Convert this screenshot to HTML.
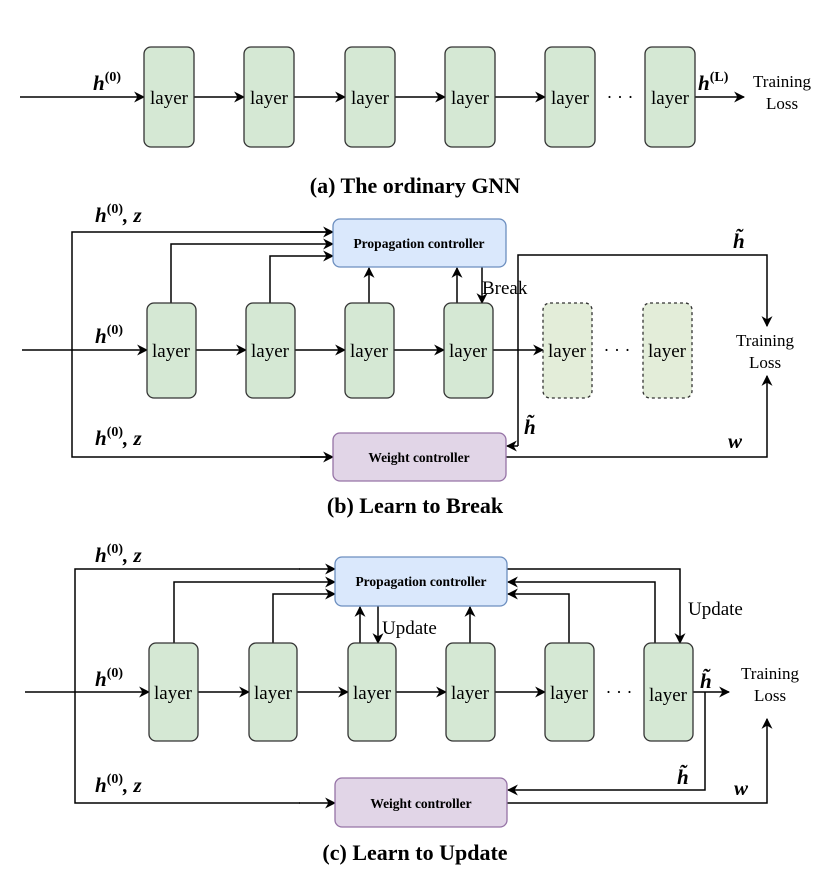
<!DOCTYPE html>
<html><head><meta charset="utf-8"><style>
html,body{margin:0;padding:0;background:#fff;}
svg{display:block;}
text{font-family:"Liberation Serif",serif;fill:#000;}
.ly{font-size:19px;}
.m{font-size:21px;font-weight:bold;font-style:italic;}
.sup{font-size:14px;font-weight:bold;font-style:normal;}
.cap{font-size:22px;font-weight:bold;}
.ctl{font-size:13.5px;font-weight:bold;}
.tl{font-size:17px;}
</style></head><body>
<svg width="830" height="881" viewBox="0 0 830 881" xmlns="http://www.w3.org/2000/svg">
<defs>
<marker id="a" viewBox="0 0 10 10" refX="9" refY="5" markerWidth="11" markerHeight="11" orient="auto" markerUnits="userSpaceOnUse">
<path d="M0,0 L10,5 L0,10 L3,5 Z" fill="#000"/></marker>
</defs>
<g stroke="#000" stroke-width="1.5" fill="none">
<line x1="20" y1="97" x2="144" y2="97" marker-end="url(#a)"/>
<line x1="194" y1="97" x2="244" y2="97" marker-end="url(#a)"/>
<line x1="294" y1="97" x2="345" y2="97" marker-end="url(#a)"/>
<line x1="395" y1="97" x2="445" y2="97" marker-end="url(#a)"/>
<line x1="495" y1="97" x2="545" y2="97" marker-end="url(#a)"/>
<line x1="695" y1="97" x2="744" y2="97" marker-end="url(#a)"/>
</g>
<g fill="#d5e8d4" stroke="#333" stroke-width="1.3">
<rect x="144" y="47" width="50" height="100" rx="7"/>
<rect x="244" y="47" width="50" height="100" rx="7"/>
<rect x="345" y="47" width="50" height="100" rx="7"/>
<rect x="445" y="47" width="50" height="100" rx="7"/>
<rect x="545" y="47" width="50" height="100" rx="7"/>
<rect x="645" y="47" width="50" height="100" rx="7"/>
</g>
<g class="ly" text-anchor="middle">
<text x="169" y="104">layer</text><text x="269" y="104">layer</text><text x="370" y="104">layer</text>
<text x="470" y="104">layer</text><text x="570" y="104">layer</text><text x="670" y="104">layer</text>
</g>
<text x="620" y="103" font-size="18" text-anchor="middle">· · ·</text>
<text class="m" x="93" y="90">h<tspan class="sup" dy="-9">(0)</tspan></text>
<text class="m" x="698" y="90">h<tspan class="sup" dy="-9" font-style="italic">(L)</tspan></text>
<text class="tl" x="782" y="87" text-anchor="middle">Training</text>
<text class="tl" x="782" y="109" text-anchor="middle">Loss</text>
<text class="cap" x="415" y="193" text-anchor="middle">(a) The ordinary GNN</text>

<g stroke="#000" stroke-width="1.5" fill="none">
<polyline points="333,232 72,232 72,457 333,457" />
<line x1="300" y1="232" x2="333" y2="232" marker-end="url(#a)"/>
<line x1="300" y1="457" x2="333" y2="457" marker-end="url(#a)"/>
<polyline points="171,303 171,244 333,244" marker-end="url(#a)"/>
<polyline points="270,303 270,256 333,256" marker-end="url(#a)"/>
<line x1="369" y1="303" x2="369" y2="268" marker-end="url(#a)"/>
<line x1="457" y1="303" x2="457" y2="268" marker-end="url(#a)"/>
<line x1="482" y1="267" x2="482" y2="303" marker-end="url(#a)"/>
<line x1="22" y1="350" x2="147" y2="350" marker-end="url(#a)"/>
<line x1="196" y1="350" x2="246" y2="350" marker-end="url(#a)"/>
<line x1="295" y1="350" x2="345" y2="350" marker-end="url(#a)"/>
<line x1="394" y1="350" x2="444" y2="350" marker-end="url(#a)"/>
<line x1="493" y1="350" x2="543" y2="350" marker-end="url(#a)"/>
<polyline points="518,446 518,255 767,255 767,326" marker-end="url(#a)"/>
<line x1="518" y1="446" x2="507" y2="446" marker-end="url(#a)"/>
<polyline points="506,457 767,457 767,376" marker-end="url(#a)"/>
</g>
<rect x="333" y="219" width="173" height="48" rx="7" fill="#dae8fc" stroke="#6c8ebf" stroke-width="1.3"/>
<rect x="333" y="433" width="173" height="48" rx="7" fill="#e1d5e7" stroke="#9673a6" stroke-width="1.3"/>
<text class="ctl" x="419" y="248" text-anchor="middle">Propagation controller</text>
<text class="ctl" x="419" y="462" text-anchor="middle">Weight controller</text>
<g fill="#d5e8d4" stroke="#333" stroke-width="1.3">
<rect x="147" y="303" width="49" height="95" rx="7"/>
<rect x="246" y="303" width="49" height="95" rx="7"/>
<rect x="345" y="303" width="49" height="95" rx="7"/>
<rect x="444" y="303" width="49" height="95" rx="7"/>
</g>
<g fill="#e3edd9" stroke="#333" stroke-width="1.3" stroke-dasharray="3,3">
<rect x="543" y="303" width="49" height="95" rx="7"/>
<rect x="643" y="303" width="49" height="95" rx="7"/>
</g>
<g class="ly" text-anchor="middle">
<text x="171" y="357">layer</text><text x="270" y="357">layer</text><text x="369" y="357">layer</text>
<text x="468" y="357">layer</text><text x="567" y="357">layer</text><text x="667" y="357">layer</text>
</g>
<text x="617" y="356" font-size="18" text-anchor="middle">· · ·</text>
<text x="482" y="294" font-size="19">Break</text>
<text class="m" x="95" y="222">h<tspan class="sup" dy="-9">(0)</tspan><tspan dy="9">, z</tspan></text>
<text class="m" x="95" y="445">h<tspan class="sup" dy="-9">(0)</tspan><tspan dy="9">, z</tspan></text>
<text class="m" x="95" y="343">h<tspan class="sup" dy="-9">(0)</tspan></text>
<text class="m" x="733" y="248">h̃</text>
<text class="m" x="524" y="434">h̃</text>
<text class="m" x="728" y="448">w</text>
<text class="tl" x="765" y="346" text-anchor="middle">Training</text>
<text class="tl" x="765" y="368" text-anchor="middle">Loss</text>
<text class="cap" x="415" y="513" text-anchor="middle">(b) Learn to Break</text>

<g stroke="#000" stroke-width="1.5" fill="none">
<polyline points="300,569 75,569 75,803 300,803"/>
<line x1="299" y1="569" x2="335" y2="569" marker-end="url(#a)"/>
<line x1="299" y1="803" x2="335" y2="803" marker-end="url(#a)"/>
<polyline points="174,643 174,582 335,582" marker-end="url(#a)"/>
<polyline points="273,643 273,594 335,594" marker-end="url(#a)"/>
<line x1="360" y1="643" x2="360" y2="607" marker-end="url(#a)"/>
<line x1="378" y1="606" x2="378" y2="643" marker-end="url(#a)"/>
<line x1="470" y1="643" x2="470" y2="607" marker-end="url(#a)"/>
<polyline points="569,643 569,594 508,594" marker-end="url(#a)"/>
<polyline points="655,643 655,582 508,582" marker-end="url(#a)"/>
<polyline points="507,569 680,569 680,643" marker-end="url(#a)"/>
<line x1="25" y1="692" x2="149" y2="692" marker-end="url(#a)"/>
<line x1="198" y1="692" x2="249" y2="692" marker-end="url(#a)"/>
<line x1="297" y1="692" x2="348" y2="692" marker-end="url(#a)"/>
<line x1="396" y1="692" x2="446" y2="692" marker-end="url(#a)"/>
<line x1="495" y1="692" x2="545" y2="692" marker-end="url(#a)"/>
<line x1="693" y1="692" x2="729" y2="692" marker-end="url(#a)"/>
<polyline points="705,692 705,790 508,790" marker-end="url(#a)"/>
<polyline points="507,803 767,803 767,719" marker-end="url(#a)"/>
</g>
<rect x="335" y="557" width="172" height="49" rx="7" fill="#dae8fc" stroke="#6c8ebf" stroke-width="1.3"/>
<rect x="335" y="778" width="172" height="49" rx="7" fill="#e1d5e7" stroke="#9673a6" stroke-width="1.3"/>
<text class="ctl" x="421" y="586" text-anchor="middle">Propagation controller</text>
<text class="ctl" x="421" y="808" text-anchor="middle">Weight controller</text>
<g fill="#d5e8d4" stroke="#333" stroke-width="1.3">
<rect x="149" y="643" width="49" height="98" rx="7"/>
<rect x="249" y="643" width="48" height="98" rx="7"/>
<rect x="348" y="643" width="48" height="98" rx="7"/>
<rect x="446" y="643" width="49" height="98" rx="7"/>
<rect x="545" y="643" width="49" height="98" rx="7"/>
<rect x="644" y="643" width="49" height="98" rx="7"/>
</g>
<g class="ly" text-anchor="middle">
<text x="173" y="699">layer</text><text x="273" y="699">layer</text><text x="372" y="699">layer</text>
<text x="470" y="699">layer</text><text x="569" y="699">layer</text><text x="668" y="701">layer</text>
</g>
<text x="619" y="698" font-size="18" text-anchor="middle">· · ·</text>
<text x="382" y="634" font-size="19">Update</text>
<text x="688" y="615" font-size="19">Update</text>
<text class="m" x="95" y="562">h<tspan class="sup" dy="-9">(0)</tspan><tspan dy="9">, z</tspan></text>
<text class="m" x="95" y="792">h<tspan class="sup" dy="-9">(0)</tspan><tspan dy="9">, z</tspan></text>
<text class="m" x="95" y="686">h<tspan class="sup" dy="-9">(0)</tspan></text>
<text class="m" x="700" y="688">h̃</text>
<text class="m" x="677" y="784">h̃</text>
<text class="m" x="734" y="795">w</text>
<text class="tl" x="770" y="679" text-anchor="middle">Training</text>
<text class="tl" x="770" y="701" text-anchor="middle">Loss</text>
<text class="cap" x="415" y="860" text-anchor="middle">(c) Learn to Update</text>
</svg>
</body></html>
